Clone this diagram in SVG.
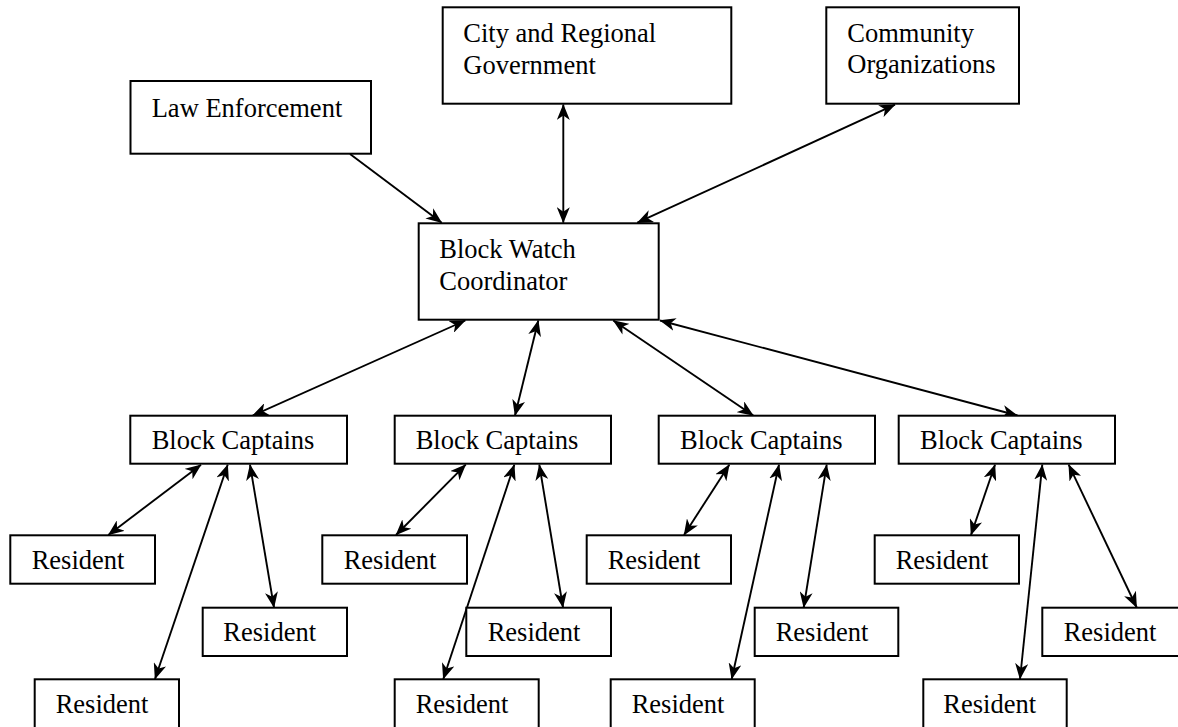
<svg xmlns="http://www.w3.org/2000/svg" width="1178" height="727" viewBox="0 0 1178 727">
<style>
.box{fill:#fff;stroke:#000;stroke-width:2}
.t{font-family:"Liberation Serif","Times New Roman",serif;font-size:26.5px;fill:#000}
.c line{stroke:#000;stroke-width:1.9;fill:none}
.bi{marker-start:url(#arr);marker-end:url(#arr)}
.uni{marker-end:url(#arr)}
</style>
<defs>
<marker id="arr" markerUnits="userSpaceOnUse" viewBox="0 0 16 13" markerWidth="16" markerHeight="13" refX="15.5" refY="6.5" orient="auto-start-reverse">
<path d="M16,6.5 L0,0 L4.5,6.5 L0,13 Z" fill="#000"/>
</marker>
</defs>
<rect width="1178" height="727" fill="#fff"/>
<g id="connectors" class="c">
<line class="uni" x1="350" y1="154" x2="441.7" y2="222.7"/>
<line class="bi" x1="563.3" y1="104.5" x2="563.3" y2="222.7"/>
<line class="bi" x1="895" y1="104.7" x2="637.3" y2="222.7"/>
<line class="bi" x1="465.3" y1="320.5" x2="252.7" y2="415.5"/>
<line class="bi" x1="538.3" y1="320.5" x2="515" y2="415.5"/>
<line class="bi" x1="613.3" y1="320.5" x2="753.3" y2="415.5"/>
<line class="bi" x1="660" y1="320.5" x2="1017.5" y2="415.5"/>
<line class="bi" x1="201" y1="464.7" x2="108.3" y2="535"/>
<line class="bi" x1="227.7" y1="464.7" x2="155" y2="679"/>
<line class="bi" x1="250" y1="464.7" x2="274" y2="607.5"/>
<line class="bi" x1="465.7" y1="464.7" x2="396" y2="535"/>
<line class="bi" x1="514.3" y1="464.7" x2="443.3" y2="679"/>
<line class="bi" x1="539.3" y1="464.7" x2="563" y2="607.5"/>
<line class="bi" x1="729.3" y1="464.7" x2="684" y2="535"/>
<line class="bi" x1="779" y1="464.7" x2="731.7" y2="679"/>
<line class="bi" x1="826.7" y1="464.7" x2="803.7" y2="607.5"/>
<line class="bi" x1="995" y1="464.7" x2="971" y2="535"/>
<line class="bi" x1="1042.3" y1="464.7" x2="1020" y2="679"/>
<line class="bi" x1="1068.7" y1="464.7" x2="1136.7" y2="607.5"/>
</g>
<g id="law"><rect class="box" x="130.5" y="81" width="240.5" height="72.7"/><text class="t" x="151.7" y="117.3">Law Enforcement</text></g>
<g id="city"><rect class="box" x="442.7" y="7.3" width="288.6" height="96.4"/><text class="t" x="463.3" y="42.3">City and Regional</text><text class="t" x="463.3" y="73.8">Government</text></g>
<g id="community"><rect class="box" x="826.3" y="7.3" width="192.7" height="96.4"/><text class="t" x="847.3" y="42.3">Community</text><text class="t" x="847.3" y="73.3">Organizations</text></g>
<g id="coordinator"><rect class="box" x="418.7" y="223.3" width="240" height="96.4"/><text class="t" x="439.3" y="257.7">Block Watch</text><text class="t" x="439.3" y="290">Coordinator</text></g>
<g id="captains1"><rect class="box" x="130.3" y="415.7" width="216.7" height="48"/><text class="t" x="151.7" y="449.3">Block Captains</text></g>
<g id="captains2"><rect class="box" x="394.7" y="415.7" width="216.3" height="48"/><text class="t" x="415.7" y="449.3">Block Captains</text></g>
<g id="captains3"><rect class="box" x="658.7" y="415.7" width="216.3" height="48"/><text class="t" x="680" y="449.3">Block Captains</text></g>
<g id="captains4"><rect class="box" x="898.7" y="415.7" width="216.3" height="48"/><text class="t" x="920" y="449.3">Block Captains</text></g>
<g id="resA"><rect class="box" x="10.3" y="535.3" width="144.7" height="48.4"/><text class="t" x="31.7" y="569.3">Resident</text></g>
<g id="resB"><rect class="box" x="202.7" y="607.7" width="144.3" height="48.3"/><text class="t" x="223.3" y="641">Resident</text></g>
<g id="resC"><rect class="box" x="34.7" y="679.3" width="144.3" height="49"/><text class="t" x="55.7" y="712.7">Resident</text></g>
<g id="resD"><rect class="box" x="322.3" y="535.3" width="144.7" height="48.4"/><text class="t" x="343.7" y="569.3">Resident</text></g>
<g id="resE"><rect class="box" x="466.3" y="607.7" width="144.7" height="48.3"/><text class="t" x="487.7" y="641">Resident</text></g>
<g id="resF"><rect class="box" x="394.7" y="679.3" width="144" height="49"/><text class="t" x="415.7" y="712.7">Resident</text></g>
<g id="resG"><rect class="box" x="586.7" y="535.3" width="144.3" height="48.4"/><text class="t" x="607.7" y="569.3">Resident</text></g>
<g id="resH"><rect class="box" x="754.7" y="607.7" width="143.6" height="48.3"/><text class="t" x="775.7" y="641">Resident</text></g>
<g id="resI"><rect class="box" x="610.7" y="679.3" width="144" height="49"/><text class="t" x="631.7" y="712.7">Resident</text></g>
<g id="resJ"><rect class="box" x="874.7" y="535.3" width="144.3" height="48.4"/><text class="t" x="895.7" y="569.3">Resident</text></g>
<g id="resK"><rect class="box" x="1042.3" y="607.7" width="144.7" height="48.3"/><text class="t" x="1063.7" y="641">Resident</text></g>
<g id="resL"><rect class="box" x="923.3" y="679.3" width="143.4" height="49"/><text class="t" x="943.3" y="712.7">Resident</text></g>
</svg>
